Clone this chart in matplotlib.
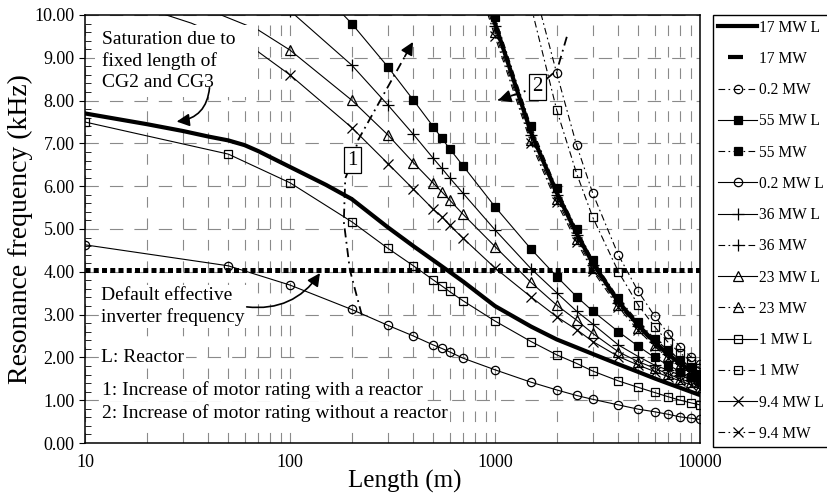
import matplotlib
matplotlib.use("Agg")
import matplotlib.pyplot as plt
from matplotlib.patches import Rectangle
from matplotlib.ticker import FixedLocator, FuncFormatter, MultipleLocator, LogLocator

plt.rcParams['font.family'] = 'Liberation Serif'

# cable lengths (m) used by the different curves
x_fine = [10, 20, 30, 40, 50, 60, 70, 100, 150, 200, 300, 400, 500, 600, 700,
          1000, 1500, 2000, 3000, 4000, 5000, 6000, 7000, 8000, 9000, 10000]
x_full = [10, 50, 100, 200, 300, 400, 500, 550, 600, 700, 1000, 1500, 2000,
          2500, 3000, 4000, 5000, 6000, 7000, 8000, 9000, 10000]
x_mid = [100, 200, 300, 400, 500, 550, 600, 700, 1000, 1500, 2000,
         2500, 3000, 4000, 5000, 6000, 7000, 8000, 9000, 10000]
x_far = [700, 1000, 1500, 2000, 2500, 3000, 4000, 5000, 6000, 7000, 8000, 9000, 10000]
x_near = [1500, 2000, 2500, 3000, 4000, 5000, 6000, 7000, 8000, 9000, 10000]
x_23L = [40, 70] + x_mid
x_94L = [20, 33, 70] + x_mid

# resonance frequency (kHz), "L" = with reactor
f17_L = [7.70, 7.45, 7.29, 7.16, 7.07, 6.96, 6.82, 6.45, 6.03, 5.70, 5.04, 4.60, 4.27,
         4.00, 3.77, 3.20, 2.72, 2.42, 2.08, 1.84, 1.66, 1.51, 1.39, 1.29, 1.20, 1.12]
f17 = [12.0, 9.80, 7.25, 5.85, 4.90, 4.20, 3.30, 2.75, 2.36, 2.07, 1.86, 1.70, 1.56]
f02 = [10.9, 8.64, 6.96, 5.83, 4.39, 3.54, 2.97, 2.55, 2.25, 2.02, 1.85]
f55_L = [11.3, 9.80, 8.79, 8.01, 7.39, 7.12, 6.88, 6.47, 5.52, 4.53, 3.89, 3.42, 3.08,
         2.60, 2.26, 2.00, 1.82, 1.67, 1.55, 1.45]
f55 = [12.3, 9.95, 7.40, 5.95, 5.00, 4.28, 3.38, 2.83, 2.44, 2.16, 1.95, 1.77, 1.62]
f02_L = [4.63, 4.14, 3.69, 3.12, 2.75, 2.50, 2.29, 2.21, 2.13, 1.98, 1.71, 1.42, 1.24,
         1.11, 1.02, 0.89, 0.79, 0.73, 0.67, 0.61, 0.58, 0.55]
f36_L = [10.1, 8.83, 7.90, 7.21, 6.65, 6.42, 6.20, 5.83, 4.98, 4.07, 3.51, 3.08, 2.78,
         2.29, 2.02, 1.82, 1.70, 1.58, 1.48, 1.38]
f36 = [12.1, 9.75, 7.20, 5.80, 4.85, 4.15, 3.28, 2.74, 2.36, 2.08, 1.87, 1.70, 1.56]
f23_L = [10.12, 9.65, 9.18, 8.01, 7.20, 6.55, 6.07, 5.87, 5.68, 5.34, 4.59, 3.75, 3.22,
         2.87, 2.56, 2.13, 1.90, 1.75, 1.61, 1.50, 1.42, 1.32]
f23 = [11.9, 9.60, 7.08, 5.70, 4.77, 4.08, 3.22, 2.68, 2.30, 2.03, 1.82, 1.65, 1.52]
f1_L = [7.50, 6.75, 6.08, 5.17, 4.55, 4.14, 3.81, 3.67, 3.54, 3.32, 2.85, 2.37, 2.06,
        1.86, 1.68, 1.45, 1.30, 1.18, 1.08, 1.00, 0.94, 0.89]
f1 = [10.2, 7.78, 6.30, 5.27, 4.00, 3.22, 2.72, 2.35, 2.10, 1.92, 1.75]
f94_L = [10.15, 9.81, 9.14, 8.60, 7.37, 6.53, 5.93, 5.46, 5.29, 5.09, 4.78, 4.09, 3.41,
         2.95, 2.65, 2.37, 2.02, 1.82, 1.67, 1.55, 1.45, 1.36, 1.26]
f94 = [11.8, 9.50, 7.00, 5.62, 4.70, 4.02, 3.17, 2.63, 2.26, 1.99, 1.78, 1.62, 1.49]

inverter_freq = 4.05

# rating-increase paths
path1_x = [224, 196, 183, 186, 202, 215, 398]
path1_y = [2.99, 4.04, 5.17, 6.18, 6.61, 7.08, 9.37]
path2_x = [2240, 2010, 1612, 1037]
path2_y = [9.49, 8.72, 8.32, 8.01]

solid = '-'
dashdot = (0, (6, 3, 1.5, 3))

fig = plt.figure(figsize=(8.27, 5.01), dpi=100)
ax = fig.add_axes([85 / 827, 58 / 501, 615 / 827, 428 / 501])

# label, x, y, line style, marker, filled, linewidth, markevery
series = [
    ("17 MW L", x_fine, f17_L, solid, None, False, 3.0, None),
    ("17 MW", x_far, f17, solid, None, False, 3.0, None),
    ("0.2 MW", x_near, f02, dashdot, 'o', False, 0.8, None),
    ("55 MW L", x_mid, f55_L, solid, 's', True, 0.8, None),
    ("55 MW", x_far, f55, dashdot, 's', True, 0.8, None),
    ("0.2 MW L", x_full, f02_L, solid, 'o', False, 0.8, None),
    ("36 MW L", x_mid, f36_L, solid, '+', False, 0.8, None),
    ("36 MW", x_far, f36, dashdot, '+', False, 0.8, None),
    ("23 MW L", x_23L, f23_L, solid, '^', False, 0.8, slice(2, None)),
    ("23 MW", x_far, f23, dashdot, '^', False, 0.8, None),
    ("1 MW L", x_full, f1_L, solid, 's', False, 0.8, None),
    ("1 MW", x_near, f1, dashdot, 's', False, 0.8, None),
    ("9.4 MW L", x_94L, f94_L, solid, 'x', False, 0.8, slice(3, None)),
    ("9.4 MW", x_far, f94, dashdot, 'x', False, 0.8, None),
]

handles = []
for label, xs, ys, ls, mk, filled, lw, every in series:
    size = {'o': 6, 's': 6, '^': 6.5, '+': 9, 'x': 6.5}.get(mk, 0)
    line, = ax.plot(xs, ys, color='black', linestyle=ls, linewidth=lw,
                    marker=mk, markersize=size, markevery=every,
                    markerfacecolor='black' if filled else 'none',
                    markeredgecolor='black', markeredgewidth=0.9,
                    label=label, zorder=3)
    handles.append(line)

# default effective inverter frequency
ax.axhline(inverter_freq, color='black', linewidth=3.6,
           linestyle=(0, (1.0, 0.65)), dash_capstyle='butt', zorder=4)

# rating-increase paths with arrow heads
ax.plot(path1_x, path1_y, color='black', linewidth=1.3, linestyle=(0, (5, 2.5, 1, 2.5)), zorder=5)
ax.plot(path2_x, path2_y, color='black', linewidth=1.3, linestyle=(0, (5, 2.5, 1, 2.5)), zorder=5)
ax.annotate('', xy=(path1_x[-1], path1_y[-1]), xytext=(363, 9.03),
            arrowprops=dict(arrowstyle='-|>', color='black', lw=1.2,
                            mutation_scale=19, shrinkA=0, shrinkB=0), zorder=6)
ax.annotate('', xy=(path2_x[-1], path2_y[-1]), xytext=(1184, 8.10),
            arrowprops=dict(arrowstyle='-|>', color='black', lw=1.2,
                            mutation_scale=19, shrinkA=0, shrinkB=0), zorder=6)
ax.text(202, 6.61, '1', fontsize=15, ha='center', va='center', zorder=7,
        bbox=dict(boxstyle='square,pad=0.15', fc='white', ec='black', lw=0.9))
ax.text(1612, 8.32, '2', fontsize=15, ha='center', va='center', zorder=7,
        bbox=dict(boxstyle='square,pad=0.15', fc='white', ec='black', lw=0.9))

# explanatory notes; the saturation note sits on a white panel
ax.add_patch(Rectangle((0.016, 0.808), 0.265, 0.169, transform=ax.transAxes,
                       facecolor='white', edgecolor='none', zorder=7))
note_box = dict(boxstyle='square,pad=0.1', fc='white', ec='none')
ax.text(12.1, 8.93, 'Saturation due to\nfixed length of\nCG2 and CG3', fontsize=14,
        ha='left', va='center', linespacing=1.3, zorder=8)
ax.annotate('', xy=(28, 7.51), xytext=(40.5, 8.3),
            arrowprops=dict(arrowstyle='-|>', color='black', lw=1.2, mutation_scale=19,
                            connectionstyle='arc3,rad=-0.4', shrinkA=0, shrinkB=0), zorder=8)
ax.text(12.0, 3.2, 'Default effective\ninverter frequency', fontsize=14,
        ha='left', va='center', linespacing=1.3, bbox=note_box, zorder=8)
ax.annotate('', xy=(140, 3.97), xytext=(61.5, 3.18),
            arrowprops=dict(arrowstyle='-|>', color='black', lw=1.2, mutation_scale=19,
                            connectionstyle='arc3,rad=0.3', shrinkA=0, shrinkB=0), zorder=8)
ax.text(12.0, 1.99, 'L: Reactor', fontsize=14, ha='left', va='center',
        bbox=note_box, zorder=8)
ax.text(12.1, 1.23, '1: Increase of motor rating with a reactor', fontsize=14,
        ha='left', va='center', bbox=note_box, zorder=8)
ax.text(12.1, 0.69, '2: Increase of motor rating without a reactor', fontsize=14,
        ha='left', va='center', bbox=note_box, zorder=8)

# axes
ax.set_xscale('log')
ax.set_xlim(10, 10000)
ax.set_ylim(0, 10)
ax.xaxis.set_major_locator(FixedLocator([10, 100, 1000, 10000]))
ax.xaxis.set_major_formatter(FuncFormatter(lambda v, p: f'{v:.0f}'))
ax.xaxis.set_minor_locator(LogLocator(base=10, subs=range(2, 10)))
ax.xaxis.set_minor_formatter(FuncFormatter(lambda v, p: ''))
ax.yaxis.set_major_locator(MultipleLocator(1))
ax.yaxis.set_minor_locator(MultipleLocator(0.2))
ax.yaxis.set_major_formatter(FuncFormatter(lambda v, p: f'{v:.2f}'))
ax.tick_params(axis='both', which='major', labelsize=13, color='black')
ax.tick_params(axis='y', which='major', direction='out', length=4)
ax.tick_params(axis='y', which='minor', direction='in', length=4)
ax.tick_params(axis='x', which='both', direction='in', length=0, pad=8)

ax.grid(True, axis='y', which='major', color='#8a8a8a', linewidth=0.8, dashes=(12, 10))
ax.grid(True, axis='x', which='both', color='#8a8a8a', linewidth=0.8, dashes=(9.5, 9.8))
ax.set_axisbelow(True)
for s in ax.spines.values():
    s.set_linewidth(1.1)

ax.set_xlabel('Length (m)', fontsize=18)
ax.xaxis.set_label_coords((405 - 85) / 615, -0.062)
ax.set_ylabel('Resonance frequency (kHz)', fontsize=20)
ax.yaxis.set_label_coords(-0.085, 0.5)

leg = ax.legend(handles=handles, loc='upper left', bbox_to_anchor=(713 / 827, 1 - 15 / 501),
                bbox_transform=fig.transFigure, fontsize=11.2, frameon=True, fancybox=False,
                edgecolor='black', framealpha=1, borderpad=0.3, handlelength=2.55,
                handletextpad=0.1, labelspacing=0.98, borderaxespad=0)
leg.get_frame().set_linewidth(1.0)
# the no-reactor 17 MW entry shows a single short dash in the key
leg.get_lines()[1].set_linestyle((7.2, (3.6, 6)))

fig.savefig('out.png', dpi=100)
